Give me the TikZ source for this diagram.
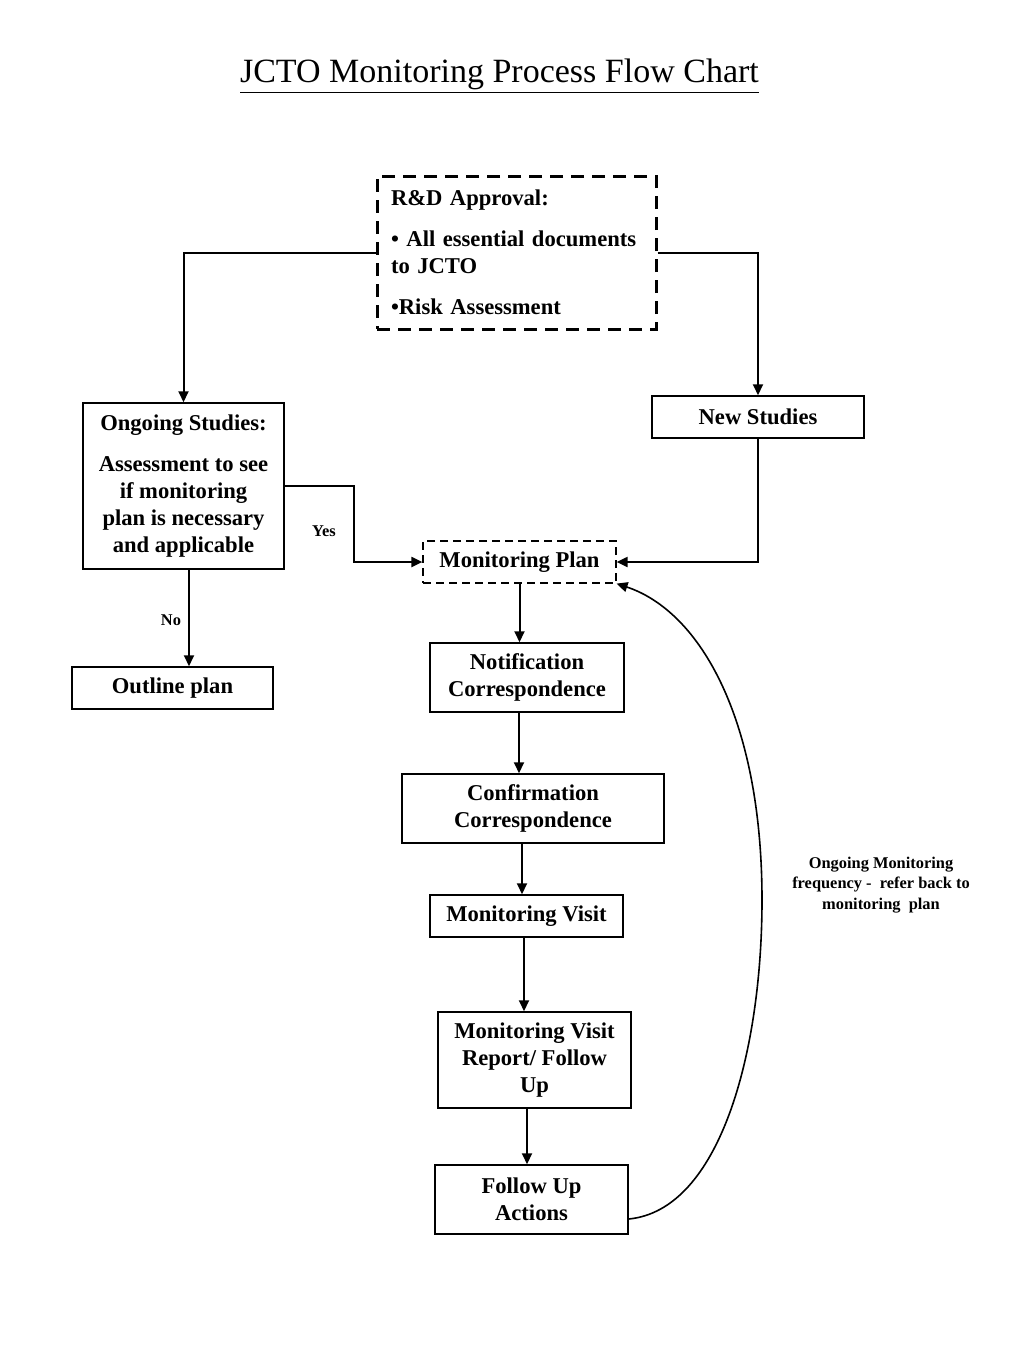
\documentclass[tikz,border=0pt]{standalone}
\usepackage{fontspec}
\setmainfont{Liberation Serif}
\usetikzlibrary{arrows.meta}
\begin{document}
\begin{tikzpicture}[x=0.5pt,y=-0.5pt,
  boxfont/.style={font=\bfseries\fontsize{11.3}{13.5}\selectfont},
  box/.style={draw, line width=0.75pt, boxfont, align=center, inner sep=0pt},
  dashbox/.style={draw, line width=1.5pt, dash pattern=on 6.5pt off 4pt, boxfont},
  thindash/.style={draw, line width=0.6pt, dash pattern=on 4pt off 2.5pt, boxfont, align=center, inner sep=0pt},
  arr/.style={draw, line width=1pt, -{Triangle[length=5.5pt,width=5pt]}},
  lbl/.style={font=\bfseries\fontsize{8.2}{10.25}\selectfont, align=center}
]
\useasboundingbox (0,0) rectangle (1024,1365);
\node[font=\fontsize{17}{20}\selectfont, anchor=base] (title) at (499.5,82) {\underline{JCTO Monitoring Process Flow Chart}};

\node[dashbox, text width=125.5pt, inner xsep=7pt, inner ysep=0pt, minimum height=76.5pt, align=left] (rd) at (516.5,252.5)
  {R\&D Approval:\\[7pt]• All essential documents\\to JCTO\\[7pt]•Risk Assessment};

\node[box, minimum width=100.5pt, minimum height=83pt] (ong) at (183.5,486)
  {Ongoing Studies:\\[7pt]Assessment to see\\if monitoring\\plan is necessary\\and applicable};
\node[box, minimum width=106pt, minimum height=21pt] (ns) at (758,417) {New Studies};
\node[thindash, minimum width=96.5pt, minimum height=21pt] (mp) at (519.5,562) {Monitoring Plan};
\node[box, minimum width=100.5pt, minimum height=21pt] (out) at (172.5,688) {Outline plan};
\node[box, minimum width=97pt, minimum height=34.5pt] (notif) at (527,677.5) {Notification\\Correspondence};
\node[box, minimum width=131pt, minimum height=34.5pt] (conf) at (533,808.5) {Confirmation\\Correspondence};
\node[box, minimum width=96.5pt, minimum height=21pt] (mv) at (526.5,916) {Monitoring Visit};
\node[box, minimum width=96.5pt, minimum height=48pt] (mvr) at (534.5,1060) {Monitoring Visit\\Report/ Follow\\Up};
\node[box, minimum width=96.5pt, minimum height=34.5pt] (fu) at (531.5,1199.5) {Follow Up\\Actions};

\node[lbl] (yes) at (324,531) {Yes};
\node[lbl] (no) at (171,620) {No};
\node[lbl] (loopl) at (881,885) {Ongoing Monitoring\\frequency -\ \ refer back to\\monitoring\ \ plan};

\draw[arr] (rd.west) -| (ong.north);
\draw[arr] (rd.east) -| (ns.north);
\draw[arr] (ong.east) -- ++(69,0) |- (mp.west);
\draw[arr] (ns.south) |- (mp.east);
\draw[arr] ([xshift=2.75pt]ong.south) -- ([xshift=2.75pt]ong.south |- out.north);
\draw[arr] (mp.south) -- (mp.south |- notif.north);
\draw[arr] ([xshift=-4pt]notif.south) -- ([xshift=-4pt]notif.south |- conf.north);
\draw[arr] ([xshift=-5.5pt]conf.south) -- ([xshift=-5.5pt]conf.south |- mv.north);
\draw[arr] ([xshift=-1.25pt]mv.south) -- ([xshift=-1.25pt]mv.south |- mvr.north);
\draw[arr] ([xshift=-3.75pt]mvr.south) -- ([xshift=-3.75pt]mvr.south |- fu.north);

\coordinate (cmid) at (762,900);
\draw[line width=0.8pt, -{Triangle[length=5.5pt,width=5pt]}]
  ([yshift=-9.75pt]fu.east) .. controls +(92,-9) and +(0,150) .. (cmid)
  .. controls +(0,-180) and +(84,28) .. (mp.south east);
\end{tikzpicture}
\end{document}
